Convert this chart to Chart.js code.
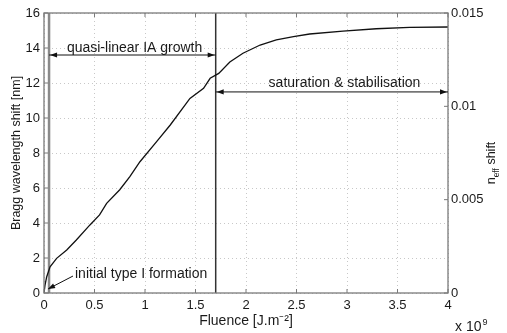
<!DOCTYPE html>
<html>
<head>
<meta charset="utf-8">
<script src="https://cdn.jsdelivr.net/npm/chart.js@4/dist/chart.umd.min.js"></script>
<style>
  html, body { margin: 0; padding: 0; background: #fff; }
  #wrap { width: 507px; height: 333px; position: relative; }
</style>
</head>
<body>
<div id="wrap"><canvas id="bragg-chart"></canvas></div>
<script>
// fluence in units of 1e9 J/m^2, shift in nm
const fluence = [0, 0.01, 0.027, 0.06, 0.125, 0.225, 0.32, 0.455, 0.55, 0.62, 0.75, 0.85, 0.95, 1.115, 1.25, 1.445, 1.58, 1.645, 1.73, 1.84, 1.97, 2.14, 2.30, 2.47, 2.63, 2.96, 3.29, 3.62, 4.0];
const braggShift = [0, 0.45, 0.93, 1.5, 1.98, 2.46, 3.03, 3.89, 4.46, 5.12, 5.9, 6.65, 7.5, 8.65, 9.6, 11.12, 11.7, 12.27, 12.55, 13.2, 13.7, 14.17, 14.46, 14.65, 14.8, 14.97, 15.1, 15.18, 15.2];

const xTicks = [0, 0.5, 1, 1.5, 2, 2.5, 3, 3.5, 4];
const xTickLabels = ['0', '0.5', '1', '1.5', '2', '2.5', '3', '3.5', '4'];
const leftTicks = [0, 2, 4, 6, 8, 10, 12, 14, 16];
const rightTicks = [0, 0.005, 0.01, 0.015];
const rightTickLabels = ['0', '0.005', '0.01', '0.015'];

// vertical phase boundaries (x 1e9)
const phaseLines = [0.05, 1.7];

const FONT = "'Liberation Sans', Arial, Helvetica, sans-serif";
const TEXT = '#1a1a1a';
const FRAME = '#7a7a7a';

// annotations: arrows and their labels, in data units
const growthArrow = { x0: 0.05, x1: 1.7, y: 13.6, text: 'quasi-linear IA growth', tx: 0.897, ty: 13.77 };
const saturationArrow = { x0: 1.7, x1: 4, y: 11.49, text: 'saturation & stabilisation', tx: 2.975, ty: 11.77 };
const initialArrow = { x0: 0.287, y0: 0.97, x1: 0.04, y1: 0.23, text: 'initial type I formation', tx: 0.307, ty: 0.86 };

function arrowHead(ctx, x, y, ang) {
  const len = 7, half = 2.6;
  ctx.save();
  ctx.translate(x, y);
  ctx.rotate(ang);
  ctx.beginPath();
  ctx.moveTo(0, 0);
  ctx.lineTo(-len, -half);
  ctx.lineTo(-len, half);
  ctx.closePath();
  ctx.fill();
  ctx.restore();
}

const decorPlugin = {
  id: 'decor',
  afterDatasetsDraw(chart) {
    const { ctx, chartArea: a, scales } = chart;
    const sx = scales.x, sy = scales.y, sy2 = scales.y2;
    ctx.save();

    // frame + inward ticks
    ctx.strokeStyle = FRAME;
    ctx.lineWidth = 1.3;
    ctx.strokeRect(a.left, a.top, a.right - a.left, a.bottom - a.top);
    ctx.lineWidth = 1;
    ctx.beginPath();
    xTicks.forEach(v => {
      const p = sx.getPixelForValue(v);
      ctx.moveTo(p, a.bottom); ctx.lineTo(p, a.bottom - 4);
      ctx.moveTo(p, a.top); ctx.lineTo(p, a.top + 4);
    });
    leftTicks.forEach(v => {
      const p = sy.getPixelForValue(v);
      ctx.moveTo(a.left, p); ctx.lineTo(a.left + 4, p);
    });
    rightTicks.forEach(v => {
      const p = sy2.getPixelForValue(v);
      ctx.moveTo(a.right, p); ctx.lineTo(a.right - 4, p);
    });
    ctx.stroke();

    // double arrows
    ctx.strokeStyle = '#111';
    ctx.fillStyle = '#111';
    ctx.lineWidth = 1;
    [growthArrow, saturationArrow].forEach(ar => {
      const x0 = sx.getPixelForValue(ar.x0), x1 = sx.getPixelForValue(ar.x1);
      const y = sy.getPixelForValue(ar.y);
      ctx.beginPath();
      ctx.moveTo(x0, y); ctx.lineTo(x1, y);
      ctx.stroke();
      arrowHead(ctx, x0 + 1, y, Math.PI);
      arrowHead(ctx, x1 - 1, y, 0);
    });

    // initial formation arrow
    const ax0 = sx.getPixelForValue(initialArrow.x0), ay0 = sy.getPixelForValue(initialArrow.y0);
    const ax1 = sx.getPixelForValue(initialArrow.x1), ay1 = sy.getPixelForValue(initialArrow.y1);
    ctx.beginPath();
    ctx.moveTo(ax0, ay0); ctx.lineTo(ax1, ay1);
    ctx.stroke();
    arrowHead(ctx, ax1, ay1, Math.atan2(ay1 - ay0, ax1 - ax0));

    // labels
    ctx.fillStyle = TEXT;
    ctx.font = '14px ' + FONT;
    ctx.textBaseline = 'alphabetic';
    ctx.textAlign = 'center';
    ctx.fillText(growthArrow.text, sx.getPixelForValue(growthArrow.tx), sy.getPixelForValue(growthArrow.ty));
    ctx.fillText(saturationArrow.text, sx.getPixelForValue(saturationArrow.tx), sy.getPixelForValue(saturationArrow.ty));
    ctx.textAlign = 'left';
    ctx.fillText(initialArrow.text, sx.getPixelForValue(initialArrow.tx), sy.getPixelForValue(initialArrow.ty));

    // x 10^9 multiplier
    ctx.font = '14px ' + FONT;
    ctx.fillText('x 10', 455, 331);
    const w = ctx.measureText('x 10').width;
    ctx.font = '9px ' + FONT;
    ctx.fillText('9', 455 + w + 1, 325);

    // right axis title: n_eff shift (rotated)
    ctx.save();
    ctx.translate(495, 163);
    ctx.rotate(-Math.PI / 2);
    ctx.font = '12.5px ' + FONT;
    const wn = ctx.measureText('n').width;
    const ws = ctx.measureText(' shift').width;
    ctx.font = '8.5px ' + FONT;
    const we = ctx.measureText('eff').width;
    let x = -(wn + we + ws) / 2;
    ctx.textAlign = 'left';
    ctx.font = '12.5px ' + FONT;
    ctx.fillText('n', x, 0);
    x += wn;
    ctx.font = '8.5px ' + FONT;
    ctx.fillText('eff', x, 4);
    x += we;
    ctx.font = '12.5px ' + FONT;
    ctx.fillText(' shift', x, 0);
    ctx.restore();

    ctx.restore();
  }
};

new Chart(document.getElementById('bragg-chart'), {
  type: 'scatter',
  data: {
    datasets: [
      {
        label: 'Bragg shift',
        data: fluence.map((f, i) => ({ x: f, y: braggShift[i] })),
        showLine: true,
        borderColor: '#111',
        borderWidth: 1.3,
        pointRadius: 0,
        tension: 0,
        yAxisID: 'y'
      },
      {
        label: 'start',
        data: [{ x: phaseLines[0], y: 0 }, { x: phaseLines[0], y: 16 }],
        showLine: true,
        borderColor: '#8a8a8a',
        borderWidth: 2.5,
        pointRadius: 0,
        yAxisID: 'y'
      },
      {
        label: 'transition',
        data: [{ x: phaseLines[1], y: 0 }, { x: phaseLines[1], y: 16 }],
        showLine: true,
        borderColor: '#333',
        borderWidth: 1.5,
        pointRadius: 0,
        yAxisID: 'y'
      }
    ]
  },
  options: {
    responsive: true,
    maintainAspectRatio: false,
    animation: false,
    layout: { padding: { top: 13, right: 0, left: 0, bottom: 0 } },
    plugins: { legend: { display: false }, tooltip: { enabled: false } },
    scales: {
      x: {
        type: 'linear',
        min: 0, max: 4,
        afterBuildTicks: s => { s.ticks = xTicks.map(v => ({ value: v })); },
        afterFit: s => { s.height = 40; },
        ticks: {
          padding: 5,
          color: TEXT,
          font: { family: FONT, size: 13 },
          maxRotation: 0,
          callback: (v, i) => xTickLabels[i]
        },
        grid: { color: '#c8c8c8', drawTicks: false },
        border: { display: false, dash: [1, 3] },
        title: {
          display: true,
          text: 'Fluence [J.m\u207B\u00B2]',
          color: TEXT,
          font: { family: FONT, size: 14 },
          padding: { top: 0, bottom: 3 }
        }
      },
      y: {
        position: 'left',
        min: 0, max: 16,
        afterBuildTicks: s => { s.ticks = leftTicks.map(v => ({ value: v })); },
        afterFit: s => { s.width = 44; },
        ticks: {
          padding: 4,
          color: TEXT,
          font: { family: FONT, size: 13 },
          callback: v => String(v)
        },
        grid: { color: '#c8c8c8', drawTicks: false },
        border: { display: false, dash: [1, 3] },
        title: {
          display: true,
          text: 'Bragg wavelength shift [nm]',
          color: TEXT,
          font: { family: FONT, size: 12.5 },
          padding: { top: 9, bottom: 0 }
        }
      },
      y2: {
        position: 'right',
        min: 0, max: 0.015,
        afterBuildTicks: s => { s.ticks = rightTicks.map(v => ({ value: v })); },
        afterFit: s => { s.width = 59; },
        ticks: {
          padding: 3,
          color: TEXT,
          font: { family: FONT, size: 13 },
          callback: (v, i) => rightTickLabels[i]
        },
        grid: { display: false, drawTicks: false },
        border: { display: false }
      }
    }
  },
  plugins: [decorPlugin]
});
</script>
</body>
</html>
